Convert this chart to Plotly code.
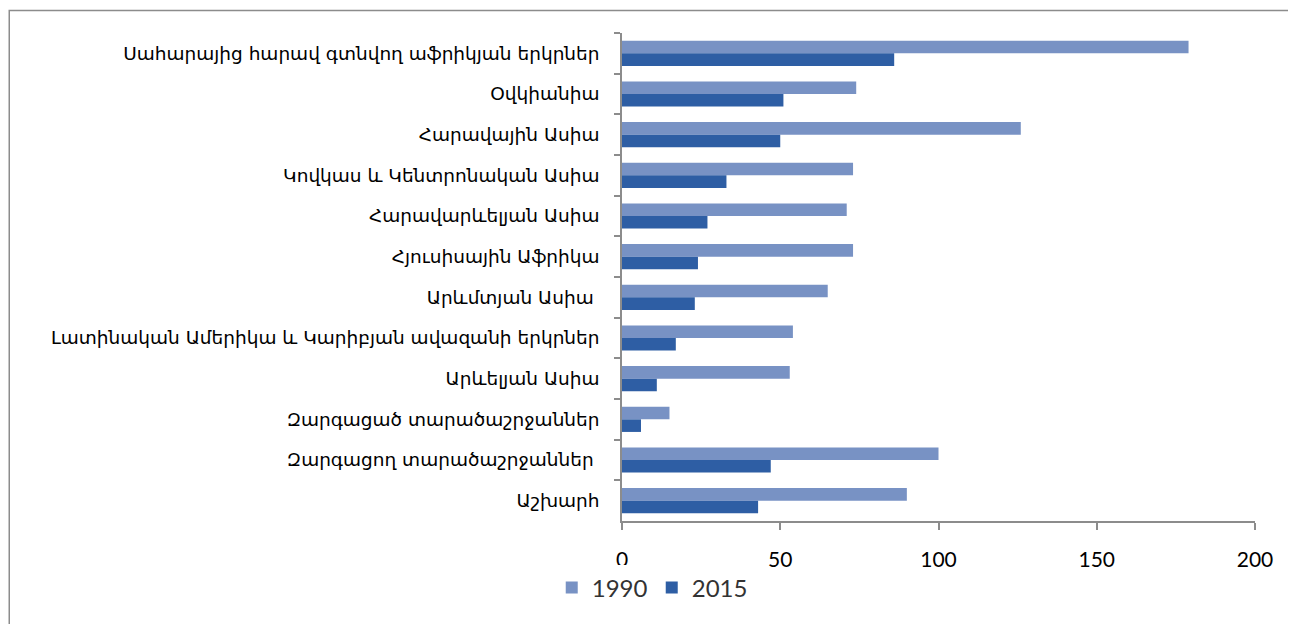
import plotly.graph_objects as go

categories = [
    "Սահարայից հարավ գտնվող աֆրիկյան երկրներ",
    "Օվկիանիա",
    "Հարավային Ասիա",
    "Կովկաս և Կենտրոնական Ասիա",
    "Հարավարևելյան Ասիա",
    "Հյուսիսային Աֆրիկա",
    "Արևմտյան Ասիա ",
    "Լատինական Ամերիկա և Կարիբյան ավազանի երկրներ",
    "Արևելյան Ասիա",
    "Զարգացած տարածաշրջաններ",
    "Զարգացող տարածաշրջաններ ",
    "Աշխարհ",
]
values_1990 = [179, 74, 126, 73, 71, 73, 65, 54, 53, 15, 100, 90]
values_2015 = [86, 51, 50, 33, 27, 24, 23, 17, 11, 6, 47, 43]
series_names = ["1990", "2015"]
x_ticks = [0, 50, 100, 150, 200]

fig = go.Figure()
fig.add_trace(go.Bar(y=categories, x=values_1990, name=series_names[0], orientation="h",
                     marker=dict(color="#7892c4", line=dict(width=0))))
fig.add_trace(go.Bar(y=categories, x=values_2015, name=series_names[1], orientation="h",
                     marker=dict(color="#2e5ea4", line=dict(width=0))))

fig.update_layout(
    width=1288, height=616,
    margin=dict(l=614, r=41, t=25, b=103),
    paper_bgcolor="white", plot_bgcolor="white",
    barmode="group", bargap=0.38, bargroupgap=0,
    font=dict(family="DejaVu Sans", color="#000000"),
    showlegend=True,
    legend=dict(orientation="h", x=-0.111, xanchor="left", y=-0.137, yanchor="middle",
                font=dict(family="Lato", size=24, color="#333333"),
                itemwidth=30, traceorder="normal", entrywidth=55),
    xaxis=dict(range=[0, 200], tickvals=x_ticks, showgrid=False, zeroline=False,
               showline=True, linecolor="#8c8c8c", linewidth=1.5,
               ticks="outside", ticklen=7, tickcolor="#8c8c8c", tickwidth=1.5,
               tickfont=dict(family="Lato", size=21, color="#000000"),
               ticklabelstandoff=12, fixedrange=True),
    yaxis=dict(autorange="reversed", showgrid=False, showline=True, linecolor="#8c8c8c",
               linewidth=1.5, ticks="outside", tickson="boundaries", ticklen=6,
               tickcolor="#8c8c8c", tickwidth=1.5,
               tickfont=dict(family="DejaVu Sans", size=18.5, color="#000000"),
               ticklabelstandoff=17),
    shapes=[dict(type="rect", xref="paper", yref="paper",
                 x0=-0.968, x1=1.057, y0=-0.25, y1=1.046,
                 line=dict(color="#8c8c8c", width=1.5), fillcolor="rgba(0,0,0,0)", layer="below")],
)

fig.write_html("out.html")
